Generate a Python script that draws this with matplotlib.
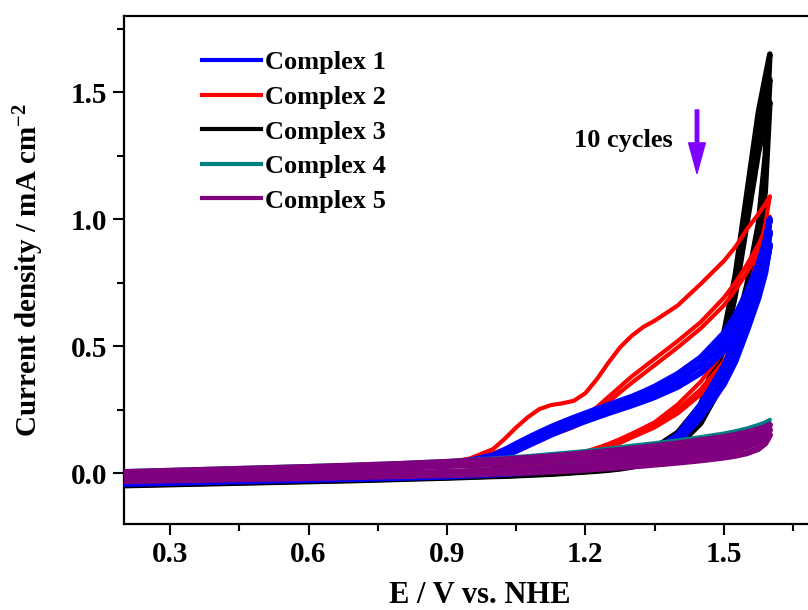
import matplotlib
matplotlib.use("Agg")
import matplotlib.pyplot as plt
from matplotlib.ticker import MultipleLocator

plt.rcParams['font.family'] = ['Liberation Serif', 'DejaVu Serif']
plt.rcParams['font.weight'] = 'bold'
plt.rcParams['mathtext.fontset'] = 'custom'
plt.rcParams['mathtext.rm'] = 'Liberation Serif:bold'
plt.rcParams['mathtext.bf'] = 'Liberation Serif:bold'
plt.rcParams['mathtext.default'] = 'bf'

# potential grid (V vs NHE), forward scan goes up, reverse comes back
E_grid = [0.20, 0.30, 0.40, 0.50, 0.60, 0.70, 0.80, 0.90, 0.95, 1.00, 1.025, 1.05, 1.075, 1.10,
          1.125, 1.15, 1.175, 1.20, 1.225, 1.25, 1.275, 1.30, 1.325, 1.35, 1.40, 1.45, 1.50,
          1.525, 1.55, 1.575, 1.59, 1.60]

# cycles 1, 5, 10 (mA cm-2)
c1_fwd = [
    [0.002, 0.007, 0.012, 0.017, 0.022, 0.027, 0.033, 0.041, 0.050, 0.070, 0.091, 0.115, 0.138, 0.160, 0.181, 0.200, 0.218, 0.235, 0.252, 0.268, 0.284, 0.300, 0.319, 0.340, 0.390, 0.455, 0.550, 0.620, 0.710, 0.820, 0.910, 1.000],
    [-0.002, 0.003, 0.008, 0.013, 0.018, 0.023, 0.029, 0.037, 0.045, 0.062, 0.080, 0.100, 0.122, 0.145, 0.166, 0.185, 0.203, 0.220, 0.236, 0.252, 0.267, 0.283, 0.301, 0.320, 0.365, 0.425, 0.515, 0.580, 0.665, 0.770, 0.860, 0.950],
    [-0.005, 0.000, 0.005, 0.010, 0.015, 0.020, 0.026, 0.034, 0.042, 0.055, 0.070, 0.088, 0.109, 0.130, 0.151, 0.170, 0.188, 0.205, 0.221, 0.237, 0.252, 0.267, 0.283, 0.300, 0.340, 0.395, 0.480, 0.540, 0.620, 0.720, 0.810, 0.900],
]
c1_rev = [
    [-0.036, -0.032, -0.028, -0.024, -0.020, -0.016, -0.012, -0.007, -0.003, 0.001, 0.003, 0.006, 0.009, 0.012, 0.016, 0.020, 0.025, 0.030, 0.036, 0.042, 0.050, 0.060, 0.073, 0.090, 0.150, 0.270, 0.420, 0.520, 0.660, 0.800, 0.900, 1.000],
    [-0.039, -0.035, -0.031, -0.027, -0.023, -0.019, -0.015, -0.010, -0.006, -0.002, 0.000, 0.003, 0.006, 0.009, 0.012, 0.016, 0.020, 0.025, 0.030, 0.036, 0.044, 0.053, 0.065, 0.080, 0.135, 0.245, 0.385, 0.480, 0.610, 0.740, 0.840, 0.950],
    [-0.042, -0.038, -0.034, -0.030, -0.026, -0.022, -0.018, -0.013, -0.009, -0.005, -0.003, 0.000, 0.003, 0.006, 0.009, 0.013, 0.017, 0.021, 0.026, 0.031, 0.038, 0.047, 0.057, 0.070, 0.120, 0.220, 0.350, 0.440, 0.560, 0.690, 0.790, 0.900],
]
c2_fwd = [
    [0.003, 0.008, 0.013, 0.018, 0.023, 0.028, 0.034, 0.042, 0.058, 0.095, 0.135, 0.180, 0.220, 0.252, 0.268, 0.275, 0.285, 0.315, 0.370, 0.435, 0.495, 0.540, 0.575, 0.600, 0.660, 0.745, 0.835, 0.890, 0.960, 1.020, 1.060, 1.090],
    [0.000, 0.005, 0.010, 0.015, 0.020, 0.025, 0.031, 0.039, 0.048, 0.078, 0.095, 0.115, 0.133, 0.150, 0.165, 0.180, 0.198, 0.225, 0.260, 0.300, 0.340, 0.380, 0.415, 0.450, 0.520, 0.595, 0.690, 0.750, 0.820, 0.900, 0.960, 1.010],
    [-0.003, 0.002, 0.007, 0.012, 0.017, 0.022, 0.028, 0.036, 0.045, 0.070, 0.087, 0.105, 0.121, 0.137, 0.151, 0.165, 0.182, 0.205, 0.240, 0.280, 0.318, 0.355, 0.390, 0.425, 0.495, 0.570, 0.660, 0.720, 0.790, 0.870, 0.930, 0.980],
]
c2_rev = [
    [-0.035, -0.031, -0.027, -0.023, -0.019, -0.015, -0.010, -0.004, 0.004, 0.012, 0.018, 0.025, 0.033, 0.042, 0.052, 0.062, 0.073, 0.085, 0.099, 0.115, 0.134, 0.155, 0.177, 0.200, 0.270, 0.360, 0.480, 0.570, 0.690, 0.860, 0.980, 1.090],
    [-0.037, -0.033, -0.029, -0.025, -0.021, -0.017, -0.012, -0.006, 0.001, 0.009, 0.015, 0.021, 0.029, 0.037, 0.047, 0.057, 0.068, 0.080, 0.094, 0.110, 0.129, 0.150, 0.170, 0.190, 0.250, 0.330, 0.440, 0.520, 0.630, 0.790, 0.900, 1.010],
    [-0.039, -0.035, -0.031, -0.027, -0.023, -0.019, -0.014, -0.008, -0.002, 0.006, 0.012, 0.018, 0.025, 0.033, 0.042, 0.052, 0.063, 0.075, 0.087, 0.100, 0.119, 0.140, 0.160, 0.180, 0.235, 0.310, 0.420, 0.500, 0.610, 0.760, 0.870, 0.980],
]
c3_fwd = [
    [0.001, 0.006, 0.011, 0.016, 0.021, 0.026, 0.031, 0.036, 0.038, 0.040, 0.041, 0.043, 0.044, 0.046, 0.048, 0.050, 0.052, 0.055, 0.058, 0.062, 0.068, 0.075, 0.086, 0.100, 0.160, 0.270, 0.550, 0.780, 1.100, 1.420, 1.560, 1.650],
    [-0.002, 0.003, 0.008, 0.013, 0.018, 0.023, 0.028, 0.033, 0.035, 0.037, 0.038, 0.040, 0.041, 0.043, 0.045, 0.047, 0.049, 0.052, 0.055, 0.059, 0.064, 0.071, 0.081, 0.095, 0.150, 0.255, 0.520, 0.740, 1.040, 1.340, 1.470, 1.550],
    [-0.005, 0.000, 0.005, 0.010, 0.015, 0.020, 0.025, 0.030, 0.032, 0.034, 0.035, 0.037, 0.038, 0.040, 0.042, 0.044, 0.046, 0.049, 0.052, 0.056, 0.061, 0.068, 0.077, 0.090, 0.140, 0.240, 0.490, 0.700, 0.980, 1.260, 1.390, 1.460],
]
c3_rev = [
    [-0.045, -0.041, -0.037, -0.033, -0.029, -0.025, -0.020, -0.015, -0.012, -0.009, -0.008, -0.006, -0.004, -0.002, 0.000, 0.003, 0.006, 0.009, 0.013, 0.018, 0.023, 0.030, 0.042, 0.060, 0.120, 0.220, 0.400, 0.560, 0.740, 0.980, 1.250, 1.650],
    [-0.047, -0.043, -0.039, -0.035, -0.031, -0.027, -0.022, -0.017, -0.014, -0.011, -0.010, -0.008, -0.006, -0.004, -0.002, 0.001, 0.004, 0.007, 0.011, 0.015, 0.020, 0.027, 0.039, 0.055, 0.112, 0.208, 0.380, 0.530, 0.700, 0.930, 1.180, 1.550],
    [-0.049, -0.045, -0.041, -0.037, -0.033, -0.029, -0.024, -0.019, -0.016, -0.013, -0.012, -0.010, -0.008, -0.006, -0.004, -0.001, 0.002, 0.005, 0.008, 0.012, 0.017, 0.024, 0.035, 0.050, 0.105, 0.196, 0.360, 0.500, 0.660, 0.880, 1.110, 1.460],
]
c4_fwd = [
    [0.008, 0.013, 0.018, 0.023, 0.028, 0.033, 0.040, 0.048, 0.053, 0.058, 0.061, 0.064, 0.067, 0.071, 0.075, 0.079, 0.083, 0.087, 0.092, 0.097, 0.102, 0.108, 0.113, 0.118, 0.129, 0.142, 0.156, 0.165, 0.176, 0.190, 0.200, 0.210],
    [0.000, 0.005, 0.010, 0.015, 0.020, 0.025, 0.031, 0.038, 0.042, 0.047, 0.049, 0.052, 0.055, 0.058, 0.061, 0.065, 0.068, 0.072, 0.076, 0.081, 0.086, 0.091, 0.095, 0.100, 0.110, 0.122, 0.135, 0.143, 0.153, 0.166, 0.176, 0.185],
]
c4_rev = [
    [-0.025, -0.021, -0.017, -0.013, -0.009, -0.005, 0.000, 0.006, 0.010, 0.014, 0.016, 0.019, 0.022, 0.025, 0.028, 0.032, 0.036, 0.040, 0.044, 0.049, 0.053, 0.058, 0.063, 0.068, 0.080, 0.094, 0.110, 0.120, 0.138, 0.165, 0.185, 0.210],
    [-0.032, -0.028, -0.024, -0.020, -0.016, -0.012, -0.008, -0.003, 0.001, 0.005, 0.007, 0.009, 0.011, 0.014, 0.017, 0.020, 0.023, 0.027, 0.031, 0.035, 0.039, 0.043, 0.047, 0.052, 0.062, 0.074, 0.088, 0.097, 0.112, 0.137, 0.158, 0.185],
]
c5_fwd = [
    [0.004, 0.009, 0.014, 0.019, 0.024, 0.030, 0.036, 0.044, 0.048, 0.052, 0.054, 0.057, 0.060, 0.063, 0.066, 0.070, 0.074, 0.078, 0.082, 0.087, 0.091, 0.096, 0.101, 0.106, 0.117, 0.129, 0.142, 0.150, 0.160, 0.172, 0.181, 0.190],
    [-0.002, 0.003, 0.008, 0.013, 0.018, 0.023, 0.029, 0.036, 0.040, 0.044, 0.046, 0.049, 0.051, 0.054, 0.057, 0.061, 0.064, 0.068, 0.072, 0.076, 0.080, 0.085, 0.089, 0.094, 0.104, 0.115, 0.127, 0.135, 0.144, 0.155, 0.163, 0.170],
    [-0.008, -0.003, 0.002, 0.007, 0.012, 0.017, 0.022, 0.029, 0.033, 0.037, 0.039, 0.041, 0.043, 0.046, 0.049, 0.052, 0.055, 0.058, 0.061, 0.065, 0.069, 0.073, 0.077, 0.081, 0.090, 0.100, 0.111, 0.118, 0.126, 0.136, 0.143, 0.150],
]
c5_rev = [
    [-0.020, -0.017, -0.014, -0.011, -0.008, -0.004, 0.000, 0.005, 0.008, 0.012, 0.014, 0.016, 0.018, 0.021, 0.024, 0.027, 0.030, 0.034, 0.038, 0.042, 0.046, 0.051, 0.056, 0.061, 0.073, 0.087, 0.103, 0.113, 0.126, 0.145, 0.165, 0.190],
    [-0.026, -0.023, -0.020, -0.017, -0.014, -0.010, -0.006, -0.002, 0.001, 0.004, 0.006, 0.008, 0.010, 0.012, 0.014, 0.017, 0.020, 0.023, 0.026, 0.030, 0.034, 0.038, 0.042, 0.047, 0.057, 0.069, 0.083, 0.092, 0.104, 0.122, 0.143, 0.170],
    [-0.031, -0.028, -0.025, -0.022, -0.019, -0.015, -0.011, -0.007, -0.005, -0.002, 0.000, 0.001, 0.003, 0.005, 0.007, 0.009, 0.011, 0.014, 0.017, 0.020, 0.023, 0.027, 0.030, 0.034, 0.042, 0.051, 0.062, 0.069, 0.079, 0.096, 0.118, 0.150],
]

labels = ['Complex 1', 'Complex 2', 'Complex 3', 'Complex 4', 'Complex 5']
colors = ['#0000ff', '#ff0000', '#000000', '#008080', '#800080']

fig = plt.figure(figsize=(8.08, 6.10), dpi=100)
ax = fig.add_axes([0.1535, 0.141, 0.9135, 0.8328])

E_loop = E_grid + E_grid[::-1]

def draw(fwd, rev, color, lw, z):
    for f, r in zip(fwd, rev):
        ax.plot(E_loop, f + r[::-1], color=color, lw=lw, zorder=z,
                solid_capstyle='round', solid_joinstyle='round')

# black sits under blue/red, teal and purple on top
draw(c3_fwd, c3_rev, colors[2], 4.0, 2)
draw(c2_fwd, c2_rev, colors[1], 3.0, 3)
draw(c1_fwd, c1_rev, colors[0], 4.5, 4)
draw(c4_fwd, c4_rev, colors[3], 3.0, 5)
draw(c5_fwd, c5_rev, colors[4], 4.5, 6)

handles = [plt.Line2D([], [], color=c, lw=3) for c in colors]
ax.legend(handles, labels, loc='upper left', bbox_to_anchor=(0.092, 0.952), frameon=False,
          fontsize=19, handlelength=2.2, handletextpad=0.15, labelspacing=0.42,
          borderaxespad=0)

ax.annotate('', xy=(1.442, 1.18), xytext=(1.442, 1.43),
            arrowprops=dict(facecolor='#7f00ff', edgecolor='#7f00ff', width=2.5,
                            headwidth=12, headlength=22))
ax.text(1.39, 1.31, '10 cycles', fontsize=19, fontweight='bold', ha='right', va='center')

ax.set_xlim(0.2, 1.8)
ax.set_ylim(-0.2, 1.8)
ax.xaxis.set_minor_locator(MultipleLocator(0.15))
ax.yaxis.set_minor_locator(MultipleLocator(0.25))
ax.set_xticks([0.3, 0.6, 0.9, 1.2, 1.5])
ax.set_xticklabels(['0.3', '0.6', '0.9', '1.2', '1.5'])
ax.set_yticks([0.0, 0.5, 1.0, 1.5])
ax.set_yticklabels(['0.0', '0.5', '1.0', '1.5'])
ax.tick_params(which='major', direction='out', length=8, width=1.5, labelsize=21, pad=4)
ax.tick_params(which='minor', direction='out', length=5, width=1.5)
for s in ax.spines.values():
    s.set_linewidth(1.6)

ax.set_xlabel('E / V vs. NHE', fontsize=22, fontweight='bold')
ax.xaxis.set_label_coords(0.482, -0.112)
ax.set_ylabel('Current density / mA cm$^{-2}$', fontsize=21, fontweight='bold')
ax.yaxis.set_label_coords(-0.106, 0.5)

fig.savefig('out.png', dpi=100)
